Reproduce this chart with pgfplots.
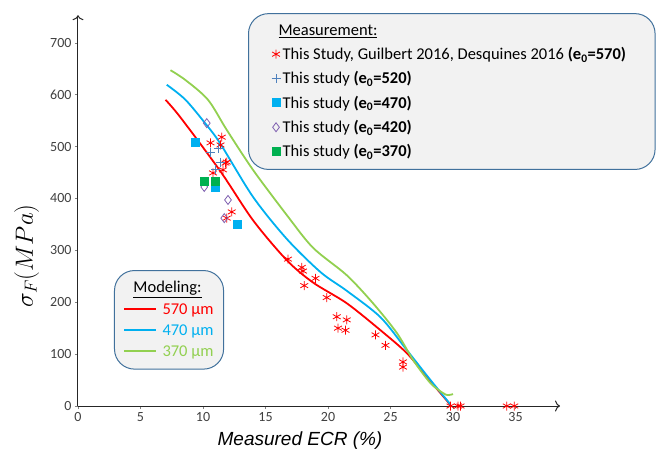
\documentclass[border=0pt]{standalone}
\usepackage{fontspec}
\setmainfont{Carlito}
\newfontfamily\arialfont{Liberation Sans}
\usepackage{pgfplots}
\pgfplotsset{compat=1.18}
\usetikzlibrary{arrows.meta}
\definecolor{mred}{HTML}{FF0000}
\definecolor{mblue}{HTML}{00B0F0}
\definecolor{mgreen}{HTML}{92D050}
\definecolor{sgreen}{HTML}{00B050}
\definecolor{plusblue}{HTML}{4F81BD}
\definecolor{dpurple}{HTML}{7F60B0}
\definecolor{boxedge}{HTML}{41719C}
\definecolor{boxfill}{HTML}{F2F2F2}
\definecolor{ticktext}{HTML}{404040}

\pgfplotsset{common/.style={x=12.5pt, y=0.519pt, xmin=0, xmax=38.56, ymin=0, ymax=753, clip=false},
  boxlegend/.style={legend cell align=left,
    legend image post style={sharp corners},
    legend style={draw=boxedge, fill=boxfill, rounded corners=20pt, line width=1pt,
      font=\fontsize{16.5}{16.5}\selectfont, text=black}}}
\newcommand{\modsample}[2]{\textcolor{#1}{\rule[0.28em]{31pt}{1.5pt}\hspace{7pt}#2}}

\begin{document}
\begin{tikzpicture}
% axes, modeling curves and their legend
\begin{axis}[common, boxlegend,
  axis lines=left,
  axis line style={black!85, line width=1pt, -{To[length=5pt,width=11pt]}},
  xtick={0,5,...,35}, ytick={0,100,...,700},
  tick align=outside, major tick length=3pt, tick style={black!50, thin},
  ticklabel style={font=\fontsize{14}{14}\selectfont, text=ticktext},
  /pgf/number format/assume math mode=true,
  xlabel={\arialfont\itshape Measured ECR (\%)},
  xlabel style={at={(axis cs:17.76,-67.4)}, anchor=center, font=\fontsize{19}{19}\selectfont},
  ylabel={$\sigma_F(MPa)$},
  ylabel style={at={(axis cs:-4.1,289)}, anchor=center, font=\fontsize{27}{27}\selectfont},
  legend style={at={(axis cs:2.88,262)}, anchor=north west, inner xsep=8pt, inner ysep=9pt, row sep=5pt},
]
\addlegendimage{empty legend}
\addlegendentry{\hspace*{9pt}\underline{Modeling:}}
\addlegendimage{empty legend}
\addlegendentry{\modsample{mred}{570 µm}}
\addlegendimage{empty legend}
\addlegendentry{\modsample{mblue}{470 µm}}
\addlegendimage{empty legend}
\addlegendentry{\modsample{mgreen}{370 µm}}

\addplot[mred, line width=1.8pt, smooth, forget plot] coordinates {
  (7.0,590) (8.2,556) (11.4,452) (14.0,358) (16.7,281) (18.8,238) (21.5,198)
  (24.2,146) (26.3,102) (27.9,56) (29.8,2)};
\addplot[mblue, line width=1.8pt, smooth, forget plot] coordinates {
  (7.1,619) (8.6,590) (10.3,541) (11.4,505) (14.0,403) (16.7,322) (19.4,258)
  (21.5,222) (24.2,171) (26.3,108) (28.2,50) (29.8,3)};
\addplot[mgreen, line width=1.8pt, smooth, forget plot] coordinates {
  (7.4,647) (8.6,628) (10.4,590) (11.9,532) (14.0,455) (16.7,368) (18.8,305)
  (21.5,252) (23.6,198) (25.5,141) (26.8,89) (28.2,44) (29.2,25) (29.6,21) (30.0,23)};

\coordinate (bbl) at (axis cs:-6.24,-92.49);
\coordinate (btr) at (axis cs:46.64,782.3);
\end{axis}

% measurements and their legend
\begin{axis}[common, boxlegend, hide axis,
  legend style={at={(axis cs:13.6,757)}, anchor=north west, inner xsep=19pt, inner ysep=9pt, row sep=6.6pt},
]
\addlegendimage{empty legend}
\addlegendentry{\hspace*{-4pt}\underline{Measurement:}}
\addplot[only marks, mark=asterisk, mark size=4.5pt, mred, line width=0.8pt] coordinates {
  (10.6,507) (11.5,518) (11.4,503) (11.8,468) (11.9,470) (10.8,449) (11.6,455)
  (12.3,374) (11.9,362) (16.8,283) (17.9,267) (18.0,260) (18.1,232) (19.0,246)
  (19.9,209) (20.7,172) (20.8,150) (21.5,166) (21.4,146) (23.8,137) (24.6,117)
  (26.0,85) (26.0,75) (29.8,0) (30.4,0) (30.6,0) (34.3,0) (34.9,0)};
\addlegendentry{This Study, Guilbert 2016, Desquines 2016 \textbf{(e\textsubscript{0}=570)}\hspace*{8pt}}
\addplot[only marks, mark=+, mark size=4.5pt, plusblue, line width=0.8pt] coordinates {
  (10.6,489) (11.2,497) (11.4,470) (11.0,455)};
\addlegendentry{This study \textbf{(e\textsubscript{0}=520)}}
\addplot[only marks, mark=square*, mark size=4pt, mblue] coordinates {
  (9.4,509) (11.0,422) (12.7,351)};
\addlegendentry{This study \textbf{(e\textsubscript{0}=470)}}
\addplot[only marks, mark=diamond, mark size=4.5pt, dpurple, line width=0.8pt] coordinates {
  (10.3,545) (10.1,422) (12.0,397) (11.7,362)};
\addlegendentry{This study \textbf{(e\textsubscript{0}=420)}}
\addplot[only marks, mark=square*, mark size=4pt, sgreen] coordinates {
  (10.1,434) (11.0,434)};
\addlegendentry{This study \textbf{(e\textsubscript{0}=370)}}
\end{axis}

\pgfresetboundingbox
\path[use as bounding box] (bbl) rectangle (btr);
\end{tikzpicture}
\end{document}
